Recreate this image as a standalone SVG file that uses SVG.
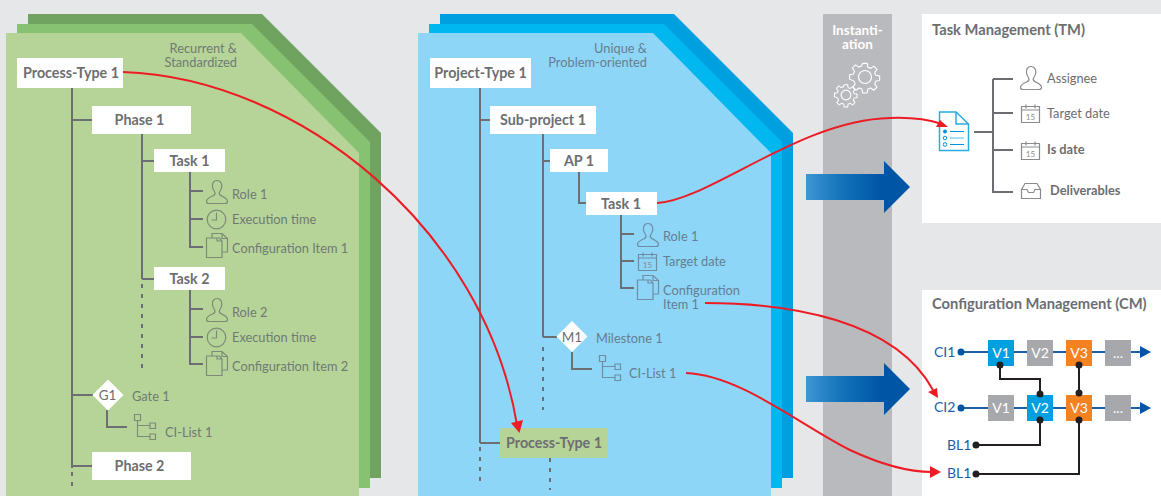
<svg xmlns="http://www.w3.org/2000/svg" width="1161" height="496" viewBox="0 0 1161 496">
<style>
text{font-family:Lato,"Open Sans",Arial,sans-serif;font-size:12.800px;fill:#6d6e71}
.b{font-weight:700;font-size:14.300px}
.m{text-anchor:middle}
.e{text-anchor:end}
.t{fill:#6f7a74}
.u{fill:#667e90}
.h{font-weight:700;font-size:14.700px;fill:#6d6e71}
.w{fill:#fff;font-weight:700;font-size:13.500px}
.l{fill:#1b5ea8;font-size:14px}
.v{fill:#fff;font-size:14px;text-anchor:middle}
.c{fill:none;stroke:#6d6e71;stroke-width:2}
.d{fill:none;stroke:#6d6e71;stroke-width:2;stroke-dasharray:4 6}
.r{fill:none;stroke:#ed1c24;stroke-width:2}
.k{fill:none;stroke:#231f20;stroke-width:2}
.bl{fill:none;stroke:#1b5ea8;stroke-width:2}
.ig{fill:none;stroke:#7d8a78;stroke-width:1.200}
.iu{fill:none;stroke:#6f8da3;stroke-width:1.200}
.iw{fill:none;stroke:#8a8b8d;stroke-width:1.200}
</style>
<defs>
<linearGradient id="ga" x1="0" x2="1" y1="0" y2="0"><stop offset="0" stop-color="#3f96d2"/><stop offset="0.35" stop-color="#1272ba"/><stop offset="0.72" stop-color="#0055a5"/></linearGradient>
<symbol id="person" viewBox="0 0 22 24" width="22" height="24" overflow="visible"><path d="M11 .5C7.5.5 6 3.5 6.500 7c.3 2.500 1.500 4 2.500 5.500.3 1.500-.5 2.500-2 3.300C4 17 .5 18.500.5 21.500c0 1.500 1 2 2.500 2h16c1.500 0 2.500-.5 2.500-2 0-3-3.500-4.500-6.200-5.700-1.500-.8-2.300-1.800-2-3.300 1-1.500 2.200-3 2.500-5.500C16 3.500 14.500.5 11 .5z"/></symbol>
<symbol id="clock" viewBox="0 0 20 20" width="20" height="20" overflow="visible"><circle cx="10" cy="10" r="9.300"/><path d="M10 3v7.500H5"/></symbol>
<symbol id="docs" viewBox="0 0 22 25" width="22" height="25" overflow="visible"><path d="M.5 5h13l2.500 3v16.500H.500zM11 5V8h5M6 5V.5h10l5.500 5V19H16M16 .5v5h5.500"/></symbol>
<symbol id="cal" viewBox="0 0 19 19" width="19" height="19" overflow="visible"><path d="M.5 2.500h18v16H.500zM.5 6h18M5 .5v4M14 .5v4"/><text x="9.500" y="15.500" text-anchor="middle" style="font-size:8px;fill:#8a8b8d;stroke:none">15</text></symbol>
<symbol id="tree" viewBox="0 0 22 26" width="22" height="26" overflow="visible"><path d="M.500.500h6v6h-6zM16 9h5.500v5.500H16zM16 20h5.500v5.500H16zM3.500 6.500V22.500H16M3.500 11.500H16"/></symbol>
<symbol id="tray" viewBox="0 0 20 16" width="20" height="16" overflow="visible"><path d="M4 .5h12l3.500 6v9H.500v-9zM.5 6.500h5.500l1.500 3h5l1.500-3h5.500"/></symbol>
<symbol id="gear1" viewBox="0 0 32 32" width="32" height="32" overflow="visible"><circle cx="16" cy="16" r="6.500"/><path d="M13.500 1h5l.8 4.300 3 1.200 3.600-2.500 3.500 3.500-2.500 3.600 1.200 3 4.300.8v5l-4.300.8-1.200 3 2.500 3.600-3.500 3.500-3.600-2.500-3 1.200-.8 4.300h-5l-.8-4.300-3-1.200-3.600 2.500-3.500-3.500 2.500-3.600-1.200-3L-1 18.500v-5l4.300-.8 1.200-3L2 6.100 5.500 2.600l3.600 2.500 3-1.200z" transform="translate(1.500 1.500) scale(.9)"/></symbol>
</defs>

<rect width="1161" height="496" fill="#e6e7e9"/>

<g id="green-stack">
<path d="M28 14H262L381 133V478H28z" fill="#6fa35f"/>
<path d="M17 24H252L370 142V488H17z" fill="#86c272"/>
<path d="M6 33H241L359 153V496H6z" fill="#b7d498"/>
<text class="t e" x="237" y="53">Recurrent &amp;</text>
<text class="t e" x="237" y="67">Standardized</text>
</g>
<g id="blue-stack">
<path d="M440 14H674L793 133V478H440z" fill="#00a0e0"/>
<path d="M429 24H664L782 142V488H429z" fill="#00b7f0"/>
<path d="M418 33H653L771 153V496H418z" fill="#8dd6f7"/>
<text class="u e" x="647" y="53">Unique &amp;</text>
<text class="u e" x="647" y="67">Problem-oriented</text>
</g>
<g id="instantiation">
<rect x="823" y="14" width="69" height="482" fill="#b9babe"/>
<text class="w m" x="857.500" y="35">Instanti-</text>
<text class="w m" x="857.500" y="49">ation</text>
<use href="#gear1" x="849" y="61" fill="none" stroke="#fff" stroke-width="1.200"/>
<g transform="translate(834 83) scale(.75)"><use href="#gear1" fill="none" stroke="#fff" stroke-width="1.500"/></g>
</g>
<g id="tm-panel">
<rect x="922" y="14" width="239" height="209" fill="#fff"/>
<text class="h" x="932" y="35">Task Management (TM)</text>
</g>
<g id="cm-panel">
<rect x="922" y="290" width="239" height="206" fill="#fff"/>
<text class="h" x="932" y="309">Configuration Management (CM)</text>
</g>
<g id="transfer-arrows">
<path d="M806 174H884V161L910 187 884 213V200H806z" fill="url(#ga)"/>
<path d="M806 376H884V363L910 389 884 415V402H806z" fill="url(#ga)"/>
</g>

<g id="connectors">
<path class="c" d="M72 88V468M72 120H92M72 395H93M72 466H92M142 134V279M142 161H154M142 279H154M190 172V247H203M190 191H203M190 219H203M190 290V364H203M190 309H203M190 337H203M107 410V427H127"/>
<path class="d" d="M72 472V488M142 284V372"/>
<path class="c" d="M480 88V443M480 120H490M480 443H500M543 134V337M543 161H550M543 337H557M579 172V203H586M621 215V288H634M621 234H634M621 261H634M572 352V369H592"/>
<path class="d" d="M480 447V487M543 347V410M550 458V490"/>
<path class="c" d="M974 132H993M993 79V192H1013M993 79H1013M993 113H1013M993 150H1013"/>
<path class="bl" d="M961 352H1140M961 408H1140"/>
<path class="k" d="M1000 365V379H1040V394M1079 365V393M1040 420V445H976M1079 420V474H976"/>
</g>

<g id="process-type-1"><rect x="17" y="58" width="106" height="30" fill="#fff"/><text class="b m" x="71" y="78">Process-Type 1</text></g>
<g id="phase-1"><rect x="92" y="106" width="99" height="28" fill="#fff"/><text class="b m" x="139.500" y="125">Phase 1</text></g>
<g id="task-1"><rect x="154" y="149" width="71" height="23" fill="#fff"/><text class="b m" x="189.500" y="166">Task 1</text></g>
<g id="role-1"><use href="#person" x="206" y="180" class="ig"/><text class="t" x="232" y="199">Role 1</text></g>
<g id="exec-1"><use href="#clock" x="206.500" y="209.500" class="ig"/><text class="t" x="232" y="224">Execution time</text></g>
<g id="ci-1"><use href="#docs" x="206" y="233" class="ig"/><text class="t" x="232" y="253">Configuration Item 1</text></g>
<g id="task-2"><rect x="154" y="267" width="71" height="23" fill="#fff"/><text class="b m" x="189.500" y="284">Task 2</text></g>
<g id="role-2"><use href="#person" x="206" y="298" class="ig"/><text class="t" x="232" y="317">Role 2</text></g>
<g id="exec-2"><use href="#clock" x="206.500" y="327.500" class="ig"/><text class="t" x="232" y="342">Execution time</text></g>
<g id="ci-2"><use href="#docs" x="206" y="351" class="ig"/><text class="t" x="232" y="371">Configuration Item 2</text></g>
<g id="gate-1"><path d="M108 379.500L123.500 395 108 410.500 92.500 395z" fill="#fff"/><text class="m" x="107.500" y="400" style="font-size:13.500px">G1</text><text class="t" x="132" y="401">Gate 1</text></g>
<g id="ci-list-1"><use href="#tree" x="134" y="414" class="ig"/><text class="t" x="165" y="437">CI-List 1</text></g>
<g id="phase-2"><rect x="92" y="452" width="99" height="28" fill="#fff"/><text class="b m" x="139.500" y="471">Phase 2</text></g>

<g id="project-type-1"><rect x="430" y="58" width="101" height="30" fill="#fff"/><text class="b m" x="480.500" y="78">Project-Type 1</text></g>
<g id="sub-project-1"><rect x="490" y="106" width="106" height="28" fill="#fff"/><text class="b m" x="543" y="125">Sub-project 1</text></g>
<g id="ap-1"><rect x="550" y="149" width="58" height="23" fill="#fff"/><text class="b m" x="579" y="166">AP 1</text></g>
<g id="p-task-1"><rect x="586" y="192" width="71" height="23" fill="#fff"/><text class="b m" x="621" y="209">Task 1</text></g>
<g id="p-role-1"><use href="#person" x="637" y="223" class="iu"/><text class="u" x="663" y="241">Role 1</text></g>
<g id="p-target"><use href="#cal" x="638" y="252" class="iu"/><text class="u" x="663" y="266">Target date</text></g>
<g id="p-ci-1"><use href="#docs" x="637" y="275" class="iu"/><text class="u" x="663" y="295">Configuration</text><text class="u" x="663" y="309">Item 1</text></g>
<g id="milestone-1"><path d="M572 321L587.500 336.500 572 352 556.500 336.500z" fill="#fff"/><text class="m" x="572" y="342" style="font-size:13.500px">M1</text><text class="u" x="596" y="343">Milestone 1</text></g>
<g id="p-ci-list-1"><use href="#tree" x="599" y="355" class="iu"/><text class="u" x="629" y="378">CI-List 1</text></g>
<g id="p-process-type-1"><rect x="500" y="428" width="108" height="30" fill="#b7d498"/><text class="b m" x="554" y="448">Process-Type 1</text></g>

<g id="tm-doc"><path d="M939.500 112H956L968.500 124V150.500H939.500z" fill="#fff" stroke="#29abe2" stroke-width="1.500"/><path d="M956 112V124H968.500" fill="none" stroke="#29abe2" stroke-width="1.500"/><circle cx="945" cy="131.500" r="2" fill="#0095da"/><circle cx="945" cy="138" r="1.800" fill="none" stroke="#0095da"/><circle cx="945" cy="144.500" r="1.800" fill="none" stroke="#0095da"/><path d="M950 131.500H964M950 144.500H964" stroke="#0095da" stroke-width="1"/><path d="M950 138H964" stroke="#8dd6f7" stroke-width="1.500"/></g>
<g id="tm-assignee"><use href="#person" x="1020" y="66" class="iw"/><text x="1047" y="83">Assignee</text></g>
<g id="tm-target"><use href="#cal" x="1021" y="104" class="iw"/><text x="1047" y="118">Target date</text></g>
<g id="tm-is"><use href="#cal" x="1021" y="141" class="iw"/><text x="1047" y="154" style="font-weight:700">Is date</text></g>
<g id="tm-deliverables"><use href="#tray" x="1021" y="183" class="iw"/><text x="1050" y="195" style="font-weight:700">Deliverables</text></g>

<g id="cm-graph">
<text class="l" x="934" y="357">CI1</text><text class="l" x="934" y="412">CI2</text><text class="l" x="947" y="450">BL1</text><text class="l" x="947" y="478">BL1</text>
<rect x="988" y="340" width="26" height="26" fill="#00a0e0"/><text class="v" x="1001" y="358">V1</text>
<rect x="1027" y="340" width="26" height="26" fill="#a7a8ab"/><text class="v" x="1040" y="358">V2</text>
<rect x="1066" y="340" width="26" height="26" fill="#f58220"/><text class="v" x="1079" y="358">V3</text>
<rect x="1105" y="340" width="26" height="26" fill="#a7a8ab"/><text class="v" x="1118" y="358">...</text>
<rect x="988" y="395" width="26" height="26" fill="#a7a8ab"/><text class="v" x="1001" y="413">V1</text>
<rect x="1027" y="395" width="26" height="26" fill="#00a0e0"/><text class="v" x="1040" y="413">V2</text>
<rect x="1066" y="395" width="26" height="26" fill="#f58220"/><text class="v" x="1079" y="413">V3</text>
<rect x="1105" y="395" width="26" height="26" fill="#a7a8ab"/><text class="v" x="1118" y="413">...</text>
<path d="M1140 346L1151 352 1140 358zM1140 402L1151 408 1140 414z" fill="#0055a5"/>
<g fill="#0055a5"><circle cx="961" cy="352" r="3.500"/><circle cx="961" cy="408" r="3.500"/></g>
<g fill="#231f20"><circle cx="1000" cy="365" r="3.500"/><circle cx="1079" cy="365" r="3.500"/><circle cx="1040" cy="394" r="3.500"/><circle cx="1079" cy="393" r="3.500"/><circle cx="1040" cy="420" r="3.500"/><circle cx="1079" cy="420" r="3.500"/><circle cx="976" cy="445" r="3.500"/><circle cx="976" cy="474" r="3.500"/></g>
</g>

<g id="red-connectors">
<path class="r" d="M123 72C300 78 485 230 517 425"/>
<path d="M511 423L523 420 519.500 433z" fill="#ed1c24"/>
<path class="r" d="M657 203C710 200 800 120 890 118 915 117 930 120 942 124"/>
<path d="M936 127L940 120 948 127z" fill="#ed1c24"/>
<path class="r" d="M705 303C790 303 895 320 933 390"/>
<path d="M928 392L937 388 938 398z" fill="#ed1c24"/>
<path class="r" d="M686 373C740 375 800 425 850 450 880 464 910 472 932 472"/>
<path d="M930 466L941 472 930 478z" fill="#ed1c24"/>
</g>
</svg>
